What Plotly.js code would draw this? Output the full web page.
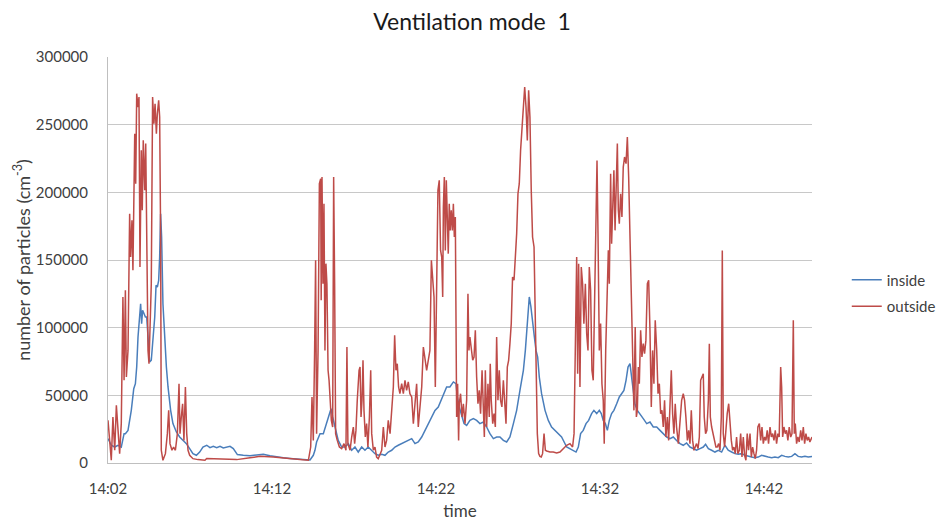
<!DOCTYPE html>
<html>
<head>
<meta charset="utf-8">
<script src="https://cdn.plot.ly/plotly-3.0.1.min.js"></script>
<style>html,body{margin:0;padding:0;background:#fff;}#chart{width:944px;height:522px;}</style>
</head>
<body>
<div id="chart"></div>
<script>
// time in minutes after 14:02
const tickMinutes = [0, 10, 20, 30, 40];
const tickLabels = ["14:02", "14:12", "14:22", "14:32", "14:42"];

const outsideTime = [
0.00,0.20,0.30,0.41,0.51,0.61,0.71,0.81,0.91,0.98,1.06,1.12,1.22,1.32,1.38,1.46,1.52,1.63,1.69,1.75,1.83,1.89,1.95,2.03,2.09,2.15,2.24,2.30,2.38,2.44,2.50,2.56,2.64,2.72,2.80,2.87,2.95,3.01,3.09,3.15,3.21,3.25,3.35,3.50,3.62,3.70,3.78,3.90,4.00,4.11,4.23,4.33,4.39,4.47,4.55,4.63,4.72,4.80,4.88,4.98,5.18,5.49,5.91,
6.02,6.83,7.85,8.66,9.27,10.08,10.89,11.71,12.22,12.36,12.44,12.52,12.60,12.66,12.72,12.81,12.89,12.97,13.00,
13.05,13.11,13.17,13.23,13.29,13.35,13.42,13.48,13.54,13.62,13.70,13.76,13.82,13.88,13.98,14.11,14.25,14.39,14.51,14.57,14.63,14.76,14.86,14.96,15.04,15.12,15.20,15.31,15.37,15.43,15.49,15.55,15.61,15.69,15.77,15.85,15.94,16.02,16.08,16.18,16.28,16.38,16.48,16.59,16.69,16.79,16.89,16.99,17.09,17.20,17.30,17.40,17.48,17.56,17.64,17.72,17.80,17.91,18.01,18.11,18.21,18.31,18.41,18.52,18.62,18.72,18.82,18.92,19.02,19.13,19.23,19.33,19.43,19.53,19.63,19.72,19.80,19.88,19.96,20.04,20.12,20.20,20.28,20.35,
20.41,20.45,20.51,20.57,20.63,20.69,20.75,20.81,20.87,20.93,21.00,21.06,21.12,21.18,21.22,21.26,21.32,21.38,21.42,21.50,21.59,21.67,21.77,21.87,21.95,22.01,22.07,22.15,22.24,22.32,22.40,22.48,22.56,22.64,22.72,22.81,22.89,22.95,23.01,23.09,23.17,23.25,23.31,23.37,23.46,23.54,23.62,23.70,23.78,23.86,23.94,24.02,24.11,24.19,24.27,24.35,24.43,24.51,24.59,24.67,24.76,24.84,24.92,25.00,25.08,25.16,25.24,25.33,25.41,25.49,25.57,25.65,25.73,25.81,25.89,25.98,26.04,26.10,26.18,26.26,26.34,26.42,26.50,26.59,26.67,26.75,26.95,27.15,27.36,27.56,
27.76,27.97,28.17,28.33,28.42,28.50,28.58,28.64,28.70,28.78,28.86,28.94,29.02,29.11,29.19,29.27,29.35,29.43,29.51,29.59,29.68,29.76,29.82,29.88,29.96,30.04,30.12,30.20,30.26,30.35,30.43,30.51,30.57,30.65,30.71,30.77,30.85,30.92,30.98,31.06,31.12,31.18,31.26,31.34,31.42,31.50,31.59,31.67,31.75,31.83,31.91,31.99,32.07,32.15,32.22,32.28,32.34,32.40,32.48,32.56,32.64,32.72,32.80,32.89,32.97,33.05,33.13,33.21,33.29,33.37,33.46,33.54,33.62,33.70,33.78,33.86,33.94,34.02,34.11,34.19,34.27,34.35,34.43,34.51,34.59,34.67,34.78,
34.88,34.98,35.08,35.16,35.24,35.33,35.41,35.49,35.57,35.65,35.73,35.81,35.89,35.98,36.06,36.14,36.22,36.30,36.36,36.44,36.52,36.61,36.67,36.73,36.81,36.89,36.97,37.07,37.15,37.24,37.32,37.40,37.46,37.52,37.60,37.68,37.76,37.85,37.93,38.01,38.09,38.17,38.25,38.33,38.41,38.50,38.58,38.66,38.74,38.82,38.90,38.98,39.06,39.15,39.23,39.31,39.39,39.47,39.55,39.63,39.72,39.80,39.88,39.96,40.04,40.12,40.20,40.28,40.37,40.45,40.53,40.61,40.69,40.77,40.85,40.93,41.02,41.08,41.14,41.22,41.30,41.38,41.46,41.54,41.63,41.71,41.79,41.85,41.91,41.99,42.07,42.15,42.24,42.32,42.40,42.48,42.56,42.64,42.72,42.80,42.93
];
const outsideValues = [
31500,2000,34000,9400,42600,21700,6900,29100,122700,61100,127600,63500,83200,184200,152200,179300,142400,243300,206400,272900,263000,270400,144800,231000,186700,238400,201500,236000,157100,83200,73400,107900,132500,270400,250700,265500,243300,258100,268000,255700,167000,9400,2000,6900,21700,38900,14300,9400,11800,9400,21700,58600,21700,34000,43800,16700,56200,21700,9400,5700,3200,2500,2000,
3400,3000,2500,3900,4900,4400,3200,2500,2000,11800,48800,16700,83200,149800,21700,83200,206400,210100,120200,
211300,132500,191600,83200,147300,132500,68500,61100,43800,31500,26600,211300,132500,21700,16700,11800,10600,14300,9400,85700,14300,9400,19200,26600,14300,24100,46300,68500,70900,34000,46300,75900,38900,19200,29100,11800,34000,68500,21700,9400,11800,4400,3200,6900,9400,26600,11800,16700,31500,21700,38900,56200,94300,68500,73400,56200,51200,58600,51200,61100,53700,59900,51200,48800,29100,43800,58600,26600,38900,56200,85700,78300,68500,75900,83200,149800,132500,122700,56200,137400,201500,208900,157100,152200,
122700,189200,211300,157100,208900,181800,154700,191600,171900,186700,171900,191600,167000,181800,83200,34000,58600,16700,43800,51200,34000,43800,29100,46300,125100,83200,93100,83200,75900,78300,98000,63500,43800,53700,36500,68500,46300,19200,68500,26600,58600,34000,73400,46300,29100,36500,26600,93100,46300,68500,46300,41400,61100,46300,29100,70900,75900,88200,103000,137400,135000,152200,169500,199000,206400,231000,245800,268000,277800,263000,238400,275400,255700,201500,167000,159600,110300,58600,21700,6900,4900,4400,6900,21700,9400,8900,8100,8100,7400,8100,
10600,13100,14300,11800,21700,95600,152200,66000,147300,56200,144800,132500,103000,132500,95600,83200,144800,127600,68500,61100,132500,171900,223600,169500,83200,103000,58600,46300,14300,83200,132500,157100,132500,213800,162100,181800,216300,171900,201500,236000,186700,176800,199000,181800,218700,226100,221200,240900,211300,171900,120200,70900,38900,100500,34000,38900,70900,58600,98000,78300,88200,80800,90600,132500,135000,98000,41400,83200,58600,105400,83200,51200,58600,36500,38900,26600,46300,19200,34000,16700,46300,68500,36500,21700,43800,26600,14300,
34000,46300,51200,46300,34000,16700,24100,14300,38900,16700,9400,11800,14300,10600,19200,61100,63500,66000,34000,21700,24100,46300,88200,34000,26600,21700,16700,11800,11800,14300,9400,34000,157100,21700,11800,26600,36500,43800,29100,16700,9400,11800,6900,19200,6900,9400,21700,4400,19200,5700,2000,21700,9400,21700,4400,11800,6900,3200,9400,26600,29100,16700,26600,14300,19200,16700,24100,14300,26600,19200,21700,16700,24100,14300,21700,19200,70900,56200,19200,26600,21700,24100,16700,26600,19200,21700,105400,21700,29100,14300,19200,15500,24100,16700,26600,14300,21700,16700,19200,15500,19200
];

const insideTime = [
0.00,0.20,0.41,0.61,0.81,0.98,1.06,1.22,1.42,1.57,1.67,1.75,1.83,1.91,1.99,2.05,2.11,2.20,2.28,2.36,2.44,2.54,2.64,2.74,2.85,2.93,3.01,3.09,3.15,3.21,3.27,3.35,3.46,3.56,3.66,3.82,3.96,4.17,4.37,4.57,4.78,4.98,5.18,5.39,5.59,5.79,
6.02,6.22,6.42,6.63,6.83,7.03,7.24,7.44,7.64,7.76,7.89,8.25,8.66,9.07,9.47,9.88,10.29,10.69,11.10,11.50,11.91,12.32,12.52,12.62,12.72,12.83,12.93,
13.13,13.33,13.50,13.60,13.70,13.84,14.04,14.25,14.45,14.66,14.86,15.06,15.26,15.47,15.67,15.87,16.08,16.28,16.48,16.69,16.89,17.09,17.30,17.50,17.70,17.91,18.11,18.31,18.52,18.72,18.92,19.13,19.33,19.53,19.74,19.94,20.14,
20.45,20.65,20.85,21.06,21.22,21.30,21.42,21.57,21.71,21.87,22.07,22.28,22.48,22.68,22.89,23.09,23.29,23.50,23.70,23.90,24.11,24.31,24.51,24.72,24.92,25.12,25.33,25.45,25.57,25.69,25.79,25.89,26.00,26.10,26.20,26.30,26.44,26.65,26.85,27.05,27.26,27.46,27.66,
27.97,28.17,28.37,28.54,28.68,28.82,28.98,29.15,29.31,29.49,29.63,29.80,29.96,30.08,30.20,30.33,30.45,30.57,30.71,30.85,31.02,31.18,31.32,31.46,31.59,31.71,31.83,31.93,32.03,32.13,32.28,32.44,32.64,32.85,33.05,33.25,33.46,33.66,33.86,34.07,34.27,34.47,34.67,
34.88,35.08,35.28,35.49,35.69,35.89,36.10,36.30,36.44,36.61,36.81,37.01,37.22,37.42,37.62,37.82,38.03,38.23,38.43,38.64,38.84,39.04,39.25,39.45,39.65,39.86,40.06,40.26,40.47,40.67,40.87,41.08,41.28,41.48,41.69,41.89,42.09,42.29,42.50,42.70,42.93
];
const insideValues = [
18000,13100,11800,13100,11800,21700,21700,24100,38900,54900,58600,70900,93100,110300,117700,103000,112800,110300,107900,107900,88200,74600,75900,90600,107900,131300,130000,135000,152200,184200,167000,117700,90600,70900,56200,38900,29100,22900,19200,16700,14300,10600,6900,5700,8100,11800,
13100,11300,12300,11300,12300,11100,11800,12300,10600,8100,6200,5700,5400,5900,6400,5400,4400,3900,3400,3000,2500,2200,5700,9400,15500,19200,21700,
21700,29100,36500,40100,34000,26600,16700,11800,11800,14300,9400,11800,8100,11800,9400,11800,9400,6900,5700,6400,5700,8100,9400,11800,13100,14300,15500,16700,18000,14300,15500,19200,24100,29100,34000,38900,41400,
51200,56200,56200,59900,58600,48800,41400,34000,29100,27800,31500,32800,31500,29100,30300,26600,21700,18000,19200,19200,16700,15500,19200,29100,38900,53700,68500,83200,105400,122700,115300,103000,93100,83200,78300,63500,51200,38900,31500,26600,24100,21700,19200,
11800,10600,9400,8100,11800,21700,24100,29100,31500,36500,38900,36500,38900,36500,31500,29100,24100,31500,36500,38900,43800,48800,51200,53700,61100,70900,73400,63500,53700,43800,38900,36500,32800,29100,30300,26600,26600,24100,21700,19200,18000,19200,16700,
14300,13100,14800,11800,10600,9400,10600,11800,13800,10600,9400,8100,9400,8100,13100,9400,8100,6900,6400,6900,5700,4900,4400,3900,4400,5700,4900,4400,3900,4400,3900,5700,4900,4400,4900,6900,4900,4400,4900,4400,4900
];

const font = "Lato, 'Open Sans', sans-serif";
const traces = [
  {x: insideTime, y: insideValues, name: "inside", type: "scatter", mode: "lines",
   line: {color: "#4a7ebb", width: 1.5}, legendgroup: "a"},
  {x: outsideTime, y: outsideValues, name: "outside", type: "scatter", mode: "lines",
   line: {color: "#be4b48", width: 1.5}, legendgroup: "b"}
];
const layout = {
  width: 944, height: 522,
  margin: {l: 108, r: 132, t: 57, b: 59},
  paper_bgcolor: "#ffffff", plot_bgcolor: "#ffffff",
  font: {family: font, color: "#404040", size: 15},
  title: {text: "Ventilation mode  1", font: {family: font, size: 23, color: "#1a1a1a"}, x: 0.5, xanchor: "center", y: 0.958, yanchor: "middle"},
  xaxis: {
    range: [0, 42.93], tickvals: tickMinutes, ticktext: tickLabels,
    showgrid: false, zeroline: false, showline: true, linecolor: "#bfbfbf", linewidth: 1,
    ticks: "", ticklabelstandoff: 12, tickfont: {size: 15, color: "#404040"},
    title: {text: "time", font: {size: 17, color: "#404040"}, standoff: 9}
  },
  yaxis: {
    range: [0, 300000], dtick: 50000, tick0: 0, tickformat: "d",
    showgrid: true, gridcolor: "#c8c8c8", gridwidth: 1, zeroline: false,
    showline: true, linecolor: "#bfbfbf", linewidth: 1,
    ticks: "", ticklabelstandoff: 16, tickfont: {size: 15, color: "#404040"},
    title: {text: "number of particles (cm<sup>-3</sup>)", font: {size: 18, color: "#404040"}, standoff: 0}
  },
  showlegend: true,
  legend: {xref: "container", yref: "container", x: 0.897, xanchor: "left", y: 0.495, yanchor: "top",
           traceorder: "grouped", tracegroupgap: 4,
           font: {size: 15, color: "#404040"}, bgcolor: "rgba(0,0,0,0)", itemwidth: 30}
};
Plotly.newPlot("chart", traces, layout, {displayModeBar: false, staticPlot: true});
</script>
</body>
</html>
